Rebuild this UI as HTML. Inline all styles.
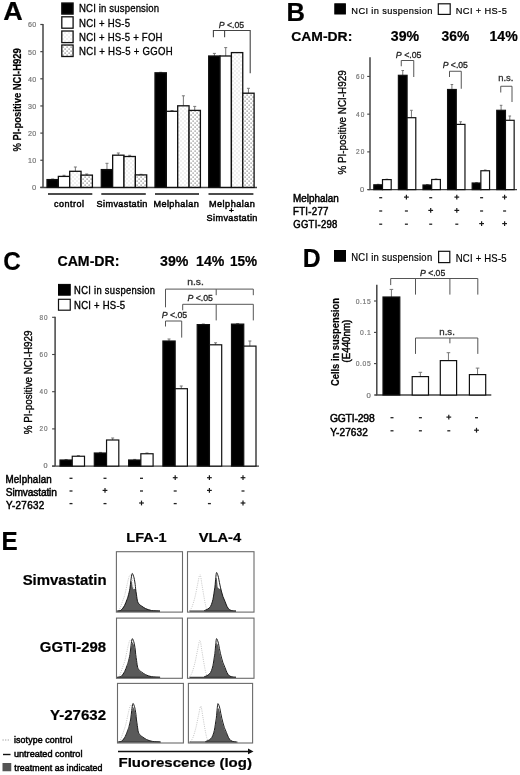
<!DOCTYPE html>
<html><head><meta charset="utf-8"><style>
html,body{margin:0;padding:0;background:#fff;}
body{width:520px;height:775px;overflow:hidden;}
svg{display:block;font-family:"Liberation Sans",sans-serif;filter:blur(0.35px);}
</style></head><body>
<svg width="520" height="775" viewBox="0 0 520 775">
<defs>
<pattern id="foh" width="4" height="4" patternUnits="userSpaceOnUse">
<rect width="4" height="4" fill="#fff"/><rect x="0.5" y="0.5" width="1" height="1" fill="#c8c8c8"/><rect x="2.5" y="2.5" width="1" height="1" fill="#c8c8c8"/>
</pattern>
<pattern id="ggoh" width="4" height="4" patternUnits="userSpaceOnUse">
<rect width="4" height="4" fill="#fff"/><rect x="0.5" y="0.5" width="1.2" height="1.2" fill="#777"/><rect x="2.5" y="2.5" width="1.2" height="1.2" fill="#777"/>
</pattern>
</defs>
<rect width="520" height="775" fill="#fff"/>
<text transform="translate(3.32,19.70) scale(1.0472,1)" font-size="25.80" style="font-weight:bold;" fill="#000" stroke="#000" stroke-width="0.2" >A</text>
<rect x="61.80" y="3.00" width="11.30" height="11.10" fill="#000" stroke="#111" stroke-width="1.3"/>
<rect x="61.80" y="16.80" width="11.30" height="11.40" fill="#fff" stroke="#111" stroke-width="1.3"/>
<rect x="61.80" y="31.00" width="11.30" height="11.60" fill="url(#foh)" stroke="#111" stroke-width="1.3"/>
<rect x="61.80" y="45.00" width="11.30" height="11.50" fill="url(#ggoh)" stroke="#111" stroke-width="1.3"/>
<text transform="translate(79.03,12.00) scale(0.9400,1)" font-size="10.20" style="letter-spacing:0.165px" fill="#000" stroke="#000" stroke-width="0.3" >NCI in suspension</text>
<text transform="translate(79.03,26.80) scale(0.9400,1)" font-size="10.20" style="letter-spacing:0.221px" fill="#000" stroke="#000" stroke-width="0.3" >NCI + HS-5</text>
<text transform="translate(79.03,41.00) scale(0.9400,1)" font-size="10.20" style="letter-spacing:0.226px" fill="#000" stroke="#000" stroke-width="0.3" >NCI + HS-5 + FOH</text>
<text transform="translate(79.03,55.20) scale(0.9400,1)" font-size="10.20" style="letter-spacing:0.288px" fill="#000" stroke="#000" stroke-width="0.3" >NCI + HS-5 + GGOH</text>
<line x1="43.0" y1="24.0" x2="43.0" y2="187.4" stroke="#444" stroke-width="1.5" />
<line x1="40.3" y1="187.4" x2="43" y2="187.4" stroke="#444" stroke-width="1.2" />
<text transform="translate(32.09,190.26) scale(1.0000,1)" font-size="7.60" style="" fill="#767676" stroke="#767676" stroke-width="0.2" >0</text>
<line x1="40.3" y1="160.25" x2="43" y2="160.25" stroke="#444" stroke-width="1.2" />
<text transform="translate(27.90,163.11) scale(0.9400,1)" font-size="7.60" style="letter-spacing:0.483px" fill="#767676" stroke="#767676" stroke-width="0.2" >10</text>
<line x1="40.3" y1="133.10000000000002" x2="43" y2="133.10000000000002" stroke="#444" stroke-width="1.2" />
<text transform="translate(27.89,135.96) scale(0.9400,1)" font-size="7.60" style="letter-spacing:0.495px" fill="#767676" stroke="#767676" stroke-width="0.2" >20</text>
<line x1="40.3" y1="105.95000000000002" x2="43" y2="105.95000000000002" stroke="#444" stroke-width="1.2" />
<text transform="translate(27.89,108.81) scale(0.9400,1)" font-size="7.60" style="letter-spacing:0.500px" fill="#767676" stroke="#767676" stroke-width="0.2" >30</text>
<line x1="40.3" y1="78.80000000000001" x2="43" y2="78.80000000000001" stroke="#444" stroke-width="1.2" />
<text transform="translate(27.88,81.66) scale(0.9400,1)" font-size="7.60" style="letter-spacing:0.507px" fill="#767676" stroke="#767676" stroke-width="0.2" >40</text>
<line x1="40.3" y1="51.650000000000006" x2="43" y2="51.650000000000006" stroke="#444" stroke-width="1.2" />
<text transform="translate(27.89,54.51) scale(0.9400,1)" font-size="7.60" style="letter-spacing:0.500px" fill="#767676" stroke="#767676" stroke-width="0.2" >50</text>
<line x1="40.3" y1="24.50000000000003" x2="43" y2="24.50000000000003" stroke="#444" stroke-width="1.2" />
<text transform="translate(27.89,27.36) scale(0.9400,1)" font-size="7.60" style="letter-spacing:0.495px" fill="#767676" stroke="#767676" stroke-width="0.2" >60</text>
<line x1="40.3" y1="187.4" x2="257" y2="187.4" stroke="#444" stroke-width="1.5" />
<line x1="52.675" y1="179.0" x2="52.675" y2="179.6" stroke="#777" stroke-width="1" />
<line x1="51.175" y1="179.0" x2="54.175" y2="179.0" stroke="#777" stroke-width="1" />
<rect x="47.00" y="179.60" width="11.35" height="7.80" fill="#000" stroke="#111" stroke-width="1.3"/>
<line x1="64.025" y1="175.3" x2="64.025" y2="176.4" stroke="#777" stroke-width="1" />
<line x1="62.525000000000006" y1="175.3" x2="65.525" y2="175.3" stroke="#777" stroke-width="1" />
<rect x="58.35" y="176.40" width="11.35" height="11.00" fill="#fff" stroke="#111" stroke-width="1.3"/>
<line x1="75.375" y1="167.0" x2="75.375" y2="171.3" stroke="#777" stroke-width="1" />
<line x1="73.875" y1="167.0" x2="76.875" y2="167.0" stroke="#777" stroke-width="1" />
<rect x="69.70" y="171.30" width="11.35" height="16.10" fill="url(#foh)" stroke="#111" stroke-width="1.3"/>
<line x1="86.725" y1="174.0" x2="86.725" y2="175.1" stroke="#777" stroke-width="1" />
<line x1="85.225" y1="174.0" x2="88.225" y2="174.0" stroke="#777" stroke-width="1" />
<rect x="81.05" y="175.10" width="11.35" height="12.30" fill="url(#ggoh)" stroke="#111" stroke-width="1.3"/>
<line x1="106.975" y1="163.3" x2="106.975" y2="169.6" stroke="#777" stroke-width="1" />
<line x1="105.475" y1="163.3" x2="108.475" y2="163.3" stroke="#777" stroke-width="1" />
<rect x="101.30" y="169.60" width="11.35" height="17.80" fill="#000" stroke="#111" stroke-width="1.3"/>
<line x1="118.32499999999999" y1="153.0" x2="118.32499999999999" y2="155.2" stroke="#777" stroke-width="1" />
<line x1="116.82499999999999" y1="153.0" x2="119.82499999999999" y2="153.0" stroke="#777" stroke-width="1" />
<rect x="112.65" y="155.20" width="11.35" height="32.20" fill="#fff" stroke="#111" stroke-width="1.3"/>
<line x1="129.675" y1="155.3" x2="129.675" y2="156.5" stroke="#777" stroke-width="1" />
<line x1="128.175" y1="155.3" x2="131.175" y2="155.3" stroke="#777" stroke-width="1" />
<rect x="124.00" y="156.50" width="11.35" height="30.90" fill="url(#foh)" stroke="#111" stroke-width="1.3"/>
<line x1="141.025" y1="174.3" x2="141.025" y2="174.9" stroke="#777" stroke-width="1" />
<line x1="139.525" y1="174.3" x2="142.525" y2="174.3" stroke="#777" stroke-width="1" />
<rect x="135.35" y="174.90" width="11.35" height="12.50" fill="url(#ggoh)" stroke="#111" stroke-width="1.3"/>
<line x1="160.675" y1="72.3" x2="160.675" y2="72.8" stroke="#777" stroke-width="1" />
<line x1="159.175" y1="72.3" x2="162.175" y2="72.3" stroke="#777" stroke-width="1" />
<rect x="155.00" y="72.80" width="11.35" height="114.60" fill="#000" stroke="#111" stroke-width="1.3"/>
<line x1="172.025" y1="110.5" x2="172.025" y2="111.3" stroke="#777" stroke-width="1" />
<line x1="170.525" y1="110.5" x2="173.525" y2="110.5" stroke="#777" stroke-width="1" />
<rect x="166.35" y="111.30" width="11.35" height="76.10" fill="#fff" stroke="#111" stroke-width="1.3"/>
<line x1="183.375" y1="95.8" x2="183.375" y2="105.8" stroke="#777" stroke-width="1" />
<line x1="181.875" y1="95.8" x2="184.875" y2="95.8" stroke="#777" stroke-width="1" />
<rect x="177.70" y="105.80" width="11.35" height="81.60" fill="url(#foh)" stroke="#111" stroke-width="1.3"/>
<line x1="194.72500000000002" y1="106.4" x2="194.72500000000002" y2="110.4" stroke="#777" stroke-width="1" />
<line x1="193.22500000000002" y1="106.4" x2="196.22500000000002" y2="106.4" stroke="#777" stroke-width="1" />
<rect x="189.05" y="110.40" width="11.35" height="77.00" fill="url(#ggoh)" stroke="#111" stroke-width="1.3"/>
<line x1="214.375" y1="53.4" x2="214.375" y2="56.0" stroke="#777" stroke-width="1" />
<line x1="212.875" y1="53.4" x2="215.875" y2="53.4" stroke="#777" stroke-width="1" />
<rect x="208.70" y="56.00" width="11.35" height="131.40" fill="#000" stroke="#111" stroke-width="1.3"/>
<line x1="225.725" y1="47.6" x2="225.725" y2="56.0" stroke="#777" stroke-width="1" />
<line x1="224.225" y1="47.6" x2="227.225" y2="47.6" stroke="#777" stroke-width="1" />
<rect x="220.05" y="56.00" width="11.35" height="131.40" fill="#fff" stroke="#111" stroke-width="1.3"/>
<rect x="231.40" y="52.60" width="11.35" height="134.80" fill="url(#foh)" stroke="#111" stroke-width="1.3"/>
<line x1="248.425" y1="88.3" x2="248.425" y2="93.2" stroke="#777" stroke-width="1" />
<line x1="246.925" y1="88.3" x2="249.925" y2="88.3" stroke="#777" stroke-width="1" />
<rect x="242.75" y="93.20" width="11.35" height="94.20" fill="url(#ggoh)" stroke="#111" stroke-width="1.3"/>
<line x1="48" y1="194" x2="92.3" y2="194" stroke="#111" stroke-width="1.4" />
<line x1="101.3" y1="194" x2="145.8" y2="194" stroke="#111" stroke-width="1.4" />
<line x1="155" y1="194" x2="199" y2="194" stroke="#111" stroke-width="1.4" />
<line x1="208.5" y1="194" x2="253.4" y2="194" stroke="#111" stroke-width="1.4" />
<text transform="translate(53.99,207.00) scale(0.9400,1)" font-size="9.60" style="letter-spacing:0.518px" fill="#000" stroke="#000" stroke-width="0.5" >control</text>
<text transform="translate(96.59,207.00) scale(0.9400,1)" font-size="9.70" style="letter-spacing:0.395px" fill="#000" stroke="#000" stroke-width="0.5" >Simvastatin</text>
<text transform="translate(153.47,207.00) scale(0.9400,1)" font-size="9.70" style="letter-spacing:0.431px" fill="#000" stroke="#000" stroke-width="0.5" >Melphalan</text>
<text transform="translate(208.97,207.00) scale(0.9400,1)" font-size="9.70" style="letter-spacing:0.511px" fill="#000" stroke="#000" stroke-width="0.5" >Melphalan</text>
<text transform="translate(228.99,213.00) scale(1.1782,1)" font-size="7.00" style="" fill="#000" stroke="#000" stroke-width="0.5" >+</text>
<text transform="translate(206.59,221.00) scale(0.9400,1)" font-size="9.70" style="letter-spacing:0.395px" fill="#000" stroke="#000" stroke-width="0.5" >Simvastatin</text>
<text transform="translate(20.90,151.54) rotate(-90) scale(0.8927,1)" font-size="10.58" style="font-weight:bold;" fill="#000" stroke="#000" stroke-width="0.2">% PI-positive NCI-H929</text>
<polyline points="213.4,37.2 213.4,30.5 250.2,30.5 250.2,73.2" fill="none" stroke="#444" stroke-width="1.1"/>
<line x1="224.6" y1="30.5" x2="224.6" y2="37.2" stroke="#444" stroke-width="1.1" />
<text transform="translate(218.74,28.30) scale(0.9344,1)" font-size="9.28" fill="#222" stroke="#222" stroke-width="0.3"><tspan style="font-style:italic">P</tspan> &lt;.05</text>
<text transform="translate(286.54,20.80) scale(0.9858,1)" font-size="25.94" style="font-weight:bold;" fill="#000" stroke="#000" stroke-width="0.2" >B</text>
<rect x="334.80" y="3.80" width="10.60" height="10.20" fill="#000" stroke="#000" stroke-width="1.0"/>
<text transform="translate(351.36,13.80) scale(0.9400,1)" font-size="9.86" style="letter-spacing:0.397px" fill="#000" stroke="#000" stroke-width="0.2" >NCI in suspension</text>
<rect x="438.30" y="3.80" width="11.90" height="10.60" fill="#fff" stroke="#111" stroke-width="1.2"/>
<text transform="translate(455.76,13.80) scale(0.9400,1)" font-size="9.86" style="letter-spacing:0.413px" fill="#000" stroke="#000" stroke-width="0.2" >NCI + HS-5</text>
<text transform="translate(291.24,41.20) scale(1.0799,1)" font-size="12.90" style="font-weight:bold;" fill="#000" stroke="#000" stroke-width="0.2" >CAM-DR:</text>
<text transform="translate(390.85,40.60) scale(1.0173,1)" font-size="13.91" style="font-weight:bold;" fill="#000" stroke="#000" stroke-width="0.2" >39%</text>
<text transform="translate(441.55,40.60) scale(0.9952,1)" font-size="13.91" style="font-weight:bold;" fill="#000" stroke="#000" stroke-width="0.2" >36%</text>
<text transform="translate(489.48,40.60) scale(1.0123,1)" font-size="13.91" style="font-weight:bold;" fill="#000" stroke="#000" stroke-width="0.2" >14%</text>
<line x1="370.0" y1="57.3" x2="370.0" y2="189.6" stroke="#444" stroke-width="1.5" />
<line x1="367.2" y1="189.6" x2="370.0" y2="189.6" stroke="#444" stroke-width="1.1" />
<text transform="translate(360.09,192.01) scale(1.1000,1)" font-size="6.90" style="" fill="#767676" stroke="#767676" stroke-width="0.2" >0</text>
<line x1="367.2" y1="151.88" x2="370.0" y2="151.88" stroke="#444" stroke-width="1.1" />
<text transform="translate(355.93,154.29) scale(0.9400,1)" font-size="6.90" style="letter-spacing:1.198px" fill="#767676" stroke="#767676" stroke-width="0.2" >20</text>
<line x1="367.2" y1="114.16" x2="370.0" y2="114.16" stroke="#444" stroke-width="1.1" />
<text transform="translate(355.91,116.58) scale(0.9400,1)" font-size="6.90" style="letter-spacing:1.227px" fill="#767676" stroke="#767676" stroke-width="0.2" >40</text>
<line x1="367.2" y1="76.44" x2="370.0" y2="76.44" stroke="#444" stroke-width="1.1" />
<text transform="translate(355.93,78.86) scale(0.9400,1)" font-size="6.90" style="letter-spacing:1.198px" fill="#767676" stroke="#767676" stroke-width="0.2" >60</text>
<line x1="367.7" y1="189.6" x2="517" y2="189.6" stroke="#444" stroke-width="1.4" />
<line x1="378.15000000000003" y1="184.3" x2="378.15000000000003" y2="184.8" stroke="#777" stroke-width="1" />
<line x1="376.85" y1="184.3" x2="379.45000000000005" y2="184.3" stroke="#777" stroke-width="1" />
<rect x="373.80" y="184.80" width="8.70" height="4.80" fill="#000" stroke="#111" stroke-width="1.2"/>
<line x1="386.85" y1="179.2" x2="386.85" y2="179.6" stroke="#777" stroke-width="1" />
<line x1="385.55" y1="179.2" x2="388.15000000000003" y2="179.2" stroke="#777" stroke-width="1" />
<rect x="382.50" y="179.60" width="8.70" height="10.00" fill="#fff" stroke="#111" stroke-width="1.2"/>
<line x1="402.74" y1="70.5" x2="402.74" y2="75.3" stroke="#777" stroke-width="1" />
<line x1="401.44" y1="70.5" x2="404.04" y2="70.5" stroke="#777" stroke-width="1" />
<rect x="398.39" y="75.30" width="8.70" height="114.30" fill="#000" stroke="#111" stroke-width="1.2"/>
<line x1="411.44" y1="110.3" x2="411.44" y2="117.7" stroke="#777" stroke-width="1" />
<line x1="410.14" y1="110.3" x2="412.74" y2="110.3" stroke="#777" stroke-width="1" />
<rect x="407.09" y="117.70" width="8.70" height="71.90" fill="#fff" stroke="#111" stroke-width="1.2"/>
<line x1="427.33000000000004" y1="184.5" x2="427.33000000000004" y2="185.0" stroke="#777" stroke-width="1" />
<line x1="426.03000000000003" y1="184.5" x2="428.63000000000005" y2="184.5" stroke="#777" stroke-width="1" />
<rect x="422.98" y="185.00" width="8.70" height="4.60" fill="#000" stroke="#111" stroke-width="1.2"/>
<line x1="436.03000000000003" y1="179.0" x2="436.03000000000003" y2="179.5" stroke="#777" stroke-width="1" />
<line x1="434.73" y1="179.0" x2="437.33000000000004" y2="179.0" stroke="#777" stroke-width="1" />
<rect x="431.68" y="179.50" width="8.70" height="10.10" fill="#fff" stroke="#111" stroke-width="1.2"/>
<line x1="451.92" y1="84.5" x2="451.92" y2="89.5" stroke="#777" stroke-width="1" />
<line x1="450.62" y1="84.5" x2="453.22" y2="84.5" stroke="#777" stroke-width="1" />
<rect x="447.57" y="89.50" width="8.70" height="100.10" fill="#000" stroke="#111" stroke-width="1.2"/>
<line x1="460.62" y1="121.75" x2="460.62" y2="124.4" stroke="#777" stroke-width="1" />
<line x1="459.32" y1="121.75" x2="461.92" y2="121.75" stroke="#777" stroke-width="1" />
<rect x="456.27" y="124.40" width="8.70" height="65.20" fill="#fff" stroke="#111" stroke-width="1.2"/>
<line x1="476.51000000000005" y1="182.6" x2="476.51000000000005" y2="183.0" stroke="#777" stroke-width="1" />
<line x1="475.21000000000004" y1="182.6" x2="477.81000000000006" y2="182.6" stroke="#777" stroke-width="1" />
<rect x="472.16" y="183.00" width="8.70" height="6.60" fill="#000" stroke="#111" stroke-width="1.2"/>
<line x1="485.21000000000004" y1="170.0" x2="485.21000000000004" y2="170.75" stroke="#777" stroke-width="1" />
<line x1="483.91" y1="170.0" x2="486.51000000000005" y2="170.0" stroke="#777" stroke-width="1" />
<rect x="480.86" y="170.75" width="8.70" height="18.85" fill="#fff" stroke="#111" stroke-width="1.2"/>
<line x1="501.1" y1="105.3" x2="501.1" y2="110.3" stroke="#777" stroke-width="1" />
<line x1="499.8" y1="105.3" x2="502.40000000000003" y2="105.3" stroke="#777" stroke-width="1" />
<rect x="496.75" y="110.30" width="8.70" height="79.30" fill="#000" stroke="#111" stroke-width="1.2"/>
<line x1="509.8" y1="116.0" x2="509.8" y2="120.3" stroke="#777" stroke-width="1" />
<line x1="508.5" y1="116.0" x2="511.1" y2="116.0" stroke="#777" stroke-width="1" />
<rect x="505.45" y="120.30" width="8.70" height="69.30" fill="#fff" stroke="#111" stroke-width="1.2"/>
<text transform="translate(346.20,174.55) rotate(-90) scale(0.9754,1)" font-size="10.14" style="" fill="#000" stroke="#000" stroke-width="0.3">% PI-positive NCI-H929</text>
<polyline points="401.25,66.25 401.25,60.5 413.75,60.5 413.75,77.0" fill="none" stroke="#555" stroke-width="1.0"/>
<text transform="translate(395.84,57.70) scale(0.9646,1)" font-size="9.13" fill="#222" stroke="#222" stroke-width="0.3"><tspan style="font-style:italic">P</tspan> &lt;.05</text>
<polyline points="449.5,77.0 449.5,71.25 461.25,71.25 461.25,88.75" fill="none" stroke="#555" stroke-width="1.0"/>
<text transform="translate(442.74,68.00) scale(1.0227,1)" font-size="8.41" fill="#222" stroke="#222" stroke-width="0.3"><tspan style="font-style:italic">P</tspan> &lt;.05</text>
<polyline points="500.75,92.5 500.75,86.25 512.0,86.25 512.0,102.0" fill="none" stroke="#555" stroke-width="1.0"/>
<text transform="translate(498.14,81.25) scale(1.1250,1)" font-size="8.40" style="" fill="#333" stroke="#333" stroke-width="0.3" >n.s.</text>
<text transform="translate(293.00,201.90) scale(0.9400,1)" font-size="10.58" style="letter-spacing:-0.007px" fill="#000" stroke="#000" stroke-width="0.5" >Melphalan</text>
<text transform="translate(293.03,215.00) scale(0.9400,1)" font-size="10.29" style="letter-spacing:0.284px" fill="#000" stroke="#000" stroke-width="0.5" >FTI-277</text>
<text transform="translate(293.32,228.00) scale(0.9400,1)" font-size="10.14" style="letter-spacing:0.254px" fill="#000" stroke="#000" stroke-width="0.5" >GGTI-298</text>
<line x1="379.2" y1="197.7" x2="382.2" y2="197.7" stroke="#222" stroke-width="1.3" />
<line x1="404.0" y1="197.1" x2="408.79999999999995" y2="197.1" stroke="#1a1a1a" stroke-width="1.2" />
<line x1="406.4" y1="194.7" x2="406.4" y2="199.5" stroke="#1a1a1a" stroke-width="1.2" />
<line x1="429.2" y1="197.7" x2="432.2" y2="197.7" stroke="#222" stroke-width="1.3" />
<line x1="454.40000000000003" y1="197.1" x2="459.2" y2="197.1" stroke="#1a1a1a" stroke-width="1.2" />
<line x1="456.8" y1="194.7" x2="456.8" y2="199.5" stroke="#1a1a1a" stroke-width="1.2" />
<line x1="480.1" y1="197.7" x2="483.1" y2="197.7" stroke="#222" stroke-width="1.3" />
<line x1="502.20000000000005" y1="197.1" x2="507.0" y2="197.1" stroke="#1a1a1a" stroke-width="1.2" />
<line x1="504.6" y1="194.7" x2="504.6" y2="199.5" stroke="#1a1a1a" stroke-width="1.2" />
<line x1="379.2" y1="211.0" x2="382.2" y2="211.0" stroke="#222" stroke-width="1.3" />
<line x1="404.9" y1="211.0" x2="407.9" y2="211.0" stroke="#222" stroke-width="1.3" />
<line x1="428.3" y1="210.4" x2="433.09999999999997" y2="210.4" stroke="#1a1a1a" stroke-width="1.2" />
<line x1="430.7" y1="208.0" x2="430.7" y2="212.8" stroke="#1a1a1a" stroke-width="1.2" />
<line x1="454.40000000000003" y1="210.4" x2="459.2" y2="210.4" stroke="#1a1a1a" stroke-width="1.2" />
<line x1="456.8" y1="208.0" x2="456.8" y2="212.8" stroke="#1a1a1a" stroke-width="1.2" />
<line x1="480.1" y1="211.0" x2="483.1" y2="211.0" stroke="#222" stroke-width="1.3" />
<line x1="503.1" y1="211.0" x2="506.1" y2="211.0" stroke="#222" stroke-width="1.3" />
<line x1="379.2" y1="224.2" x2="382.2" y2="224.2" stroke="#222" stroke-width="1.3" />
<line x1="404.9" y1="224.2" x2="407.9" y2="224.2" stroke="#222" stroke-width="1.3" />
<line x1="429.2" y1="224.2" x2="432.2" y2="224.2" stroke="#222" stroke-width="1.3" />
<line x1="455.3" y1="224.2" x2="458.3" y2="224.2" stroke="#222" stroke-width="1.3" />
<line x1="479.20000000000005" y1="223.6" x2="484.0" y2="223.6" stroke="#1a1a1a" stroke-width="1.2" />
<line x1="481.6" y1="221.2" x2="481.6" y2="226.0" stroke="#1a1a1a" stroke-width="1.2" />
<line x1="502.20000000000005" y1="223.6" x2="507.0" y2="223.6" stroke="#1a1a1a" stroke-width="1.2" />
<line x1="504.6" y1="221.2" x2="504.6" y2="226.0" stroke="#1a1a1a" stroke-width="1.2" />
<text transform="translate(3.33,270.00) scale(0.9373,1)" font-size="25.90" style="font-weight:bold;" fill="#000" stroke="#000" stroke-width="0.2" >C</text>
<text transform="translate(57.43,265.60) scale(1.0288,1)" font-size="13.77" style="font-weight:bold;" fill="#000" stroke="#000" stroke-width="0.2" >CAM-DR:</text>
<text transform="translate(160.04,266.20) scale(1.0002,1)" font-size="14.20" style="font-weight:bold;" fill="#000" stroke="#000" stroke-width="0.2" >39%</text>
<text transform="translate(196.08,266.20) scale(0.9953,1)" font-size="14.20" style="font-weight:bold;" fill="#000" stroke="#000" stroke-width="0.2" >14%</text>
<text transform="translate(229.92,266.20) scale(0.9584,1)" font-size="14.20" style="font-weight:bold;" fill="#000" stroke="#000" stroke-width="0.2" >15%</text>
<rect x="58.50" y="284.40" width="11.75" height="10.80" fill="#000" stroke="#000" stroke-width="1.0"/>
<text transform="translate(74.05,294.20) scale(0.9400,1)" font-size="10.00" style="letter-spacing:0.325px" fill="#000" stroke="#000" stroke-width="0.35" >NCI in suspension</text>
<text transform="translate(74.04,308.80) scale(0.9400,1)" font-size="10.14" style="letter-spacing:0.252px" fill="#000" stroke="#000" stroke-width="0.35" >NCI + HS-5</text>
<rect x="58.50" y="299.30" width="11.75" height="10.90" fill="#fff" stroke="#111" stroke-width="1.2"/>
<line x1="55.1" y1="316.8" x2="55.1" y2="466.1" stroke="#444" stroke-width="1.5" />
<line x1="52.1" y1="466.1" x2="55.1" y2="466.1" stroke="#444" stroke-width="1.1" />
<text transform="translate(43.55,468.48) scale(1.0700,1)" font-size="6.80" style="" fill="#767676" stroke="#767676" stroke-width="0.2" >0</text>
<line x1="52.1" y1="428.90000000000003" x2="55.1" y2="428.90000000000003" stroke="#444" stroke-width="1.1" />
<text transform="translate(39.56,431.28) scale(0.9400,1)" font-size="6.80" style="letter-spacing:0.959px" fill="#767676" stroke="#767676" stroke-width="0.2" >20</text>
<line x1="52.1" y1="391.70000000000005" x2="55.1" y2="391.70000000000005" stroke="#444" stroke-width="1.1" />
<text transform="translate(39.54,394.08) scale(0.9400,1)" font-size="6.80" style="letter-spacing:0.983px" fill="#767676" stroke="#767676" stroke-width="0.2" >40</text>
<line x1="52.1" y1="354.5" x2="55.1" y2="354.5" stroke="#444" stroke-width="1.1" />
<text transform="translate(39.56,356.88) scale(0.9400,1)" font-size="6.80" style="letter-spacing:0.959px" fill="#767676" stroke="#767676" stroke-width="0.2" >60</text>
<line x1="52.1" y1="317.3" x2="55.1" y2="317.3" stroke="#444" stroke-width="1.1" />
<text transform="translate(39.55,319.68) scale(0.9400,1)" font-size="6.80" style="letter-spacing:0.964px" fill="#767676" stroke="#767676" stroke-width="0.2" >80</text>
<line x1="52.1" y1="466.1" x2="259" y2="466.1" stroke="#444" stroke-width="1.4" />
<line x1="66.125" y1="459.5" x2="66.125" y2="460.0" stroke="#777" stroke-width="1" />
<line x1="64.625" y1="459.5" x2="67.625" y2="459.5" stroke="#777" stroke-width="1" />
<rect x="60.00" y="460.00" width="12.25" height="6.10" fill="#000" stroke="#111" stroke-width="1.2"/>
<line x1="78.375" y1="455.6" x2="78.375" y2="456.25" stroke="#777" stroke-width="1" />
<line x1="76.875" y1="455.6" x2="79.875" y2="455.6" stroke="#777" stroke-width="1" />
<rect x="72.25" y="456.25" width="12.25" height="9.85" fill="#fff" stroke="#111" stroke-width="1.2"/>
<line x1="100.425" y1="452.4" x2="100.425" y2="453.0" stroke="#777" stroke-width="1" />
<line x1="98.925" y1="452.4" x2="101.925" y2="452.4" stroke="#777" stroke-width="1" />
<rect x="94.30" y="453.00" width="12.25" height="13.10" fill="#000" stroke="#111" stroke-width="1.2"/>
<line x1="112.675" y1="438.0" x2="112.675" y2="440.0" stroke="#777" stroke-width="1" />
<line x1="111.175" y1="438.0" x2="114.175" y2="438.0" stroke="#777" stroke-width="1" />
<rect x="106.55" y="440.00" width="12.25" height="26.10" fill="#fff" stroke="#111" stroke-width="1.2"/>
<line x1="134.725" y1="459.4" x2="134.725" y2="460.0" stroke="#777" stroke-width="1" />
<line x1="133.225" y1="459.4" x2="136.225" y2="459.4" stroke="#777" stroke-width="1" />
<rect x="128.60" y="460.00" width="12.25" height="6.10" fill="#000" stroke="#111" stroke-width="1.2"/>
<line x1="146.975" y1="453.0" x2="146.975" y2="453.75" stroke="#777" stroke-width="1" />
<line x1="145.475" y1="453.0" x2="148.475" y2="453.0" stroke="#777" stroke-width="1" />
<rect x="140.85" y="453.75" width="12.25" height="12.35" fill="#fff" stroke="#111" stroke-width="1.2"/>
<line x1="169.02499999999998" y1="339.0" x2="169.02499999999998" y2="341.0" stroke="#777" stroke-width="1" />
<line x1="167.52499999999998" y1="339.0" x2="170.52499999999998" y2="339.0" stroke="#777" stroke-width="1" />
<rect x="162.90" y="341.00" width="12.25" height="125.10" fill="#000" stroke="#111" stroke-width="1.2"/>
<line x1="181.27499999999998" y1="386.0" x2="181.27499999999998" y2="388.7" stroke="#777" stroke-width="1" />
<line x1="179.77499999999998" y1="386.0" x2="182.77499999999998" y2="386.0" stroke="#777" stroke-width="1" />
<rect x="175.15" y="388.70" width="12.25" height="77.40" fill="#fff" stroke="#111" stroke-width="1.2"/>
<line x1="203.325" y1="324.0" x2="203.325" y2="324.6" stroke="#777" stroke-width="1" />
<line x1="201.825" y1="324.0" x2="204.825" y2="324.0" stroke="#777" stroke-width="1" />
<rect x="197.20" y="324.60" width="12.25" height="141.50" fill="#000" stroke="#111" stroke-width="1.2"/>
<line x1="215.575" y1="342.8" x2="215.575" y2="344.8" stroke="#777" stroke-width="1" />
<line x1="214.075" y1="342.8" x2="217.075" y2="342.8" stroke="#777" stroke-width="1" />
<rect x="209.45" y="344.80" width="12.25" height="121.30" fill="#fff" stroke="#111" stroke-width="1.2"/>
<line x1="237.625" y1="323.6" x2="237.625" y2="324.1" stroke="#777" stroke-width="1" />
<line x1="236.125" y1="323.6" x2="239.125" y2="323.6" stroke="#777" stroke-width="1" />
<rect x="231.50" y="324.10" width="12.25" height="142.00" fill="#000" stroke="#111" stroke-width="1.2"/>
<line x1="249.875" y1="341.0" x2="249.875" y2="346.1" stroke="#777" stroke-width="1" />
<line x1="248.375" y1="341.0" x2="251.375" y2="341.0" stroke="#777" stroke-width="1" />
<rect x="243.75" y="346.10" width="12.25" height="120.00" fill="#fff" stroke="#111" stroke-width="1.2"/>
<text transform="translate(31.50,434.34) rotate(-90) scale(0.9051,1)" font-size="10.87" style="" fill="#000" stroke="#000" stroke-width="0.35">% PI-positive NCI-H929</text>
<polyline points="165.5,307.3 165.5,289.1 253.3,289.1 253.3,295.2" fill="none" stroke="#555" stroke-width="1.0"/>
<line x1="216.2" y1="289.1" x2="216.2" y2="295.2" stroke="#555" stroke-width="1.0" />
<text transform="translate(187.23,285.30) scale(1.2273,1)" font-size="8.40" style="" fill="#333" stroke="#333" stroke-width="0.3" >n.s.</text>
<polyline points="182.7,310.3 182.7,304.3 253.3,304.3 253.3,320.4" fill="none" stroke="#555" stroke-width="1.0"/>
<line x1="216.2" y1="304.3" x2="216.2" y2="320.4" stroke="#555" stroke-width="1.0" />
<text transform="translate(187.44,301.30) scale(0.9275,1)" font-size="9.42" fill="#222" stroke="#222" stroke-width="0.3"><tspan style="font-style:italic">P</tspan> &lt;.05</text>
<polyline points="165.5,326.5 165.5,321.0 181.7,321.0 181.7,337.6" fill="none" stroke="#555" stroke-width="1.0"/>
<text transform="translate(161.74,318.40) scale(0.9420,1)" font-size="9.28" fill="#222" stroke="#222" stroke-width="0.3"><tspan style="font-style:italic">P</tspan> &lt;.05</text>
<text transform="translate(5.47,482.50) scale(0.9400,1)" font-size="10.43" style="letter-spacing:0.154px" fill="#000" stroke="#000" stroke-width="0.5" >Melphalan</text>
<text transform="translate(5.79,495.50) scale(0.9400,1)" font-size="10.87" style="letter-spacing:-0.175px" fill="#000" stroke="#000" stroke-width="0.5" >Simvastatin</text>
<text transform="translate(6.00,508.75) scale(0.9400,1)" font-size="10.51" style="letter-spacing:0.318px" fill="#000" stroke="#000" stroke-width="0.5" >Y-27632</text>
<line x1="69.5" y1="478.3" x2="72.5" y2="478.3" stroke="#222" stroke-width="1.3" />
<line x1="103.5" y1="478.3" x2="106.5" y2="478.3" stroke="#222" stroke-width="1.3" />
<line x1="140.0" y1="478.3" x2="143.0" y2="478.3" stroke="#222" stroke-width="1.3" />
<line x1="172.79999999999998" y1="477.7" x2="177.6" y2="477.7" stroke="#1a1a1a" stroke-width="1.2" />
<line x1="175.2" y1="475.3" x2="175.2" y2="480.09999999999997" stroke="#1a1a1a" stroke-width="1.2" />
<line x1="207.0" y1="477.7" x2="211.8" y2="477.7" stroke="#1a1a1a" stroke-width="1.2" />
<line x1="209.4" y1="475.3" x2="209.4" y2="480.09999999999997" stroke="#1a1a1a" stroke-width="1.2" />
<line x1="240.6" y1="477.7" x2="245.4" y2="477.7" stroke="#1a1a1a" stroke-width="1.2" />
<line x1="243.0" y1="475.3" x2="243.0" y2="480.09999999999997" stroke="#1a1a1a" stroke-width="1.2" />
<line x1="69.5" y1="491.0" x2="72.5" y2="491.0" stroke="#222" stroke-width="1.3" />
<line x1="102.6" y1="490.4" x2="107.4" y2="490.4" stroke="#1a1a1a" stroke-width="1.2" />
<line x1="105.0" y1="488.0" x2="105.0" y2="492.79999999999995" stroke="#1a1a1a" stroke-width="1.2" />
<line x1="140.0" y1="491.0" x2="143.0" y2="491.0" stroke="#222" stroke-width="1.3" />
<line x1="173.7" y1="491.0" x2="176.7" y2="491.0" stroke="#222" stroke-width="1.3" />
<line x1="207.0" y1="490.4" x2="211.8" y2="490.4" stroke="#1a1a1a" stroke-width="1.2" />
<line x1="209.4" y1="488.0" x2="209.4" y2="492.79999999999995" stroke="#1a1a1a" stroke-width="1.2" />
<line x1="241.5" y1="491.0" x2="244.5" y2="491.0" stroke="#222" stroke-width="1.3" />
<line x1="69.5" y1="503.6" x2="72.5" y2="503.6" stroke="#222" stroke-width="1.3" />
<line x1="103.5" y1="503.6" x2="106.5" y2="503.6" stroke="#222" stroke-width="1.3" />
<line x1="139.1" y1="503.0" x2="143.9" y2="503.0" stroke="#1a1a1a" stroke-width="1.2" />
<line x1="141.5" y1="500.6" x2="141.5" y2="505.4" stroke="#1a1a1a" stroke-width="1.2" />
<line x1="173.7" y1="503.6" x2="176.7" y2="503.6" stroke="#222" stroke-width="1.3" />
<line x1="207.9" y1="503.6" x2="210.9" y2="503.6" stroke="#222" stroke-width="1.3" />
<line x1="240.6" y1="503.0" x2="245.4" y2="503.0" stroke="#1a1a1a" stroke-width="1.2" />
<line x1="243.0" y1="500.6" x2="243.0" y2="505.4" stroke="#1a1a1a" stroke-width="1.2" />
<text transform="translate(302.68,266.90) scale(0.9590,1)" font-size="25.94" style="font-weight:bold;" fill="#000" stroke="#000" stroke-width="0.2" >D</text>
<rect x="334.50" y="250.50" width="11.00" height="10.75" fill="#000" stroke="#000" stroke-width="1.0"/>
<text transform="translate(351.24,261.25) scale(0.9400,1)" font-size="10.07" style="letter-spacing:0.275px" fill="#000" stroke="#000" stroke-width="0.2" >NCI in suspension</text>
<rect x="438.60" y="251.30" width="11.20" height="11.30" fill="#fff" stroke="#111" stroke-width="1.2"/>
<text transform="translate(455.74,261.50) scale(0.9400,1)" font-size="10.14" style="letter-spacing:0.228px" fill="#000" stroke="#000" stroke-width="0.2" >NCI + HS-5</text>
<line x1="376.8" y1="284.8" x2="376.8" y2="395.0" stroke="#444" stroke-width="1.5" />
<line x1="374.0" y1="395.0" x2="376.8" y2="395.0" stroke="#444" stroke-width="1.1" />
<text transform="translate(366.50,397.52) scale(1.0800,1)" font-size="7.20" style="" fill="#767676" stroke="#767676" stroke-width="0.2" >0</text>
<line x1="374.0" y1="363.6" x2="376.8" y2="363.6" stroke="#444" stroke-width="1.1" />
<text transform="translate(355.73,366.12) scale(0.9400,1)" font-size="7.20" style="letter-spacing:0.667px" fill="#767676" stroke="#767676" stroke-width="0.2" >0.05</text>
<line x1="374.0" y1="332.4" x2="376.8" y2="332.4" stroke="#444" stroke-width="1.1" />
<text transform="translate(360.12,334.92) scale(0.9400,1)" font-size="7.20" style="letter-spacing:0.697px" fill="#767676" stroke="#767676" stroke-width="0.2" >0.1</text>
<line x1="374.0" y1="301.0" x2="376.8" y2="301.0" stroke="#444" stroke-width="1.1" />
<text transform="translate(355.73,303.52) scale(0.9400,1)" font-size="7.20" style="letter-spacing:0.667px" fill="#767676" stroke="#767676" stroke-width="0.2" >0.15</text>
<line x1="375.4" y1="395.0" x2="491.3" y2="395.0" stroke="#444" stroke-width="1.4" />
<line x1="391.4" y1="289.4" x2="391.4" y2="297.0" stroke="#777" stroke-width="1" />
<line x1="389.59999999999997" y1="289.4" x2="393.2" y2="289.4" stroke="#777" stroke-width="1" />
<rect x="383.00" y="297.00" width="16.80" height="98.00" fill="#000" stroke="#111" stroke-width="1.2"/>
<line x1="420.35" y1="372.3" x2="420.35" y2="376.6" stroke="#777" stroke-width="1" />
<line x1="418.55" y1="372.3" x2="422.15000000000003" y2="372.3" stroke="#777" stroke-width="1" />
<rect x="412.20" y="376.60" width="16.30" height="18.40" fill="#fff" stroke="#111" stroke-width="1.2"/>
<line x1="448.45000000000005" y1="352.7" x2="448.45000000000005" y2="360.6" stroke="#777" stroke-width="1" />
<line x1="446.65000000000003" y1="352.7" x2="450.25000000000006" y2="352.7" stroke="#777" stroke-width="1" />
<rect x="440.30" y="360.60" width="16.30" height="34.40" fill="#fff" stroke="#111" stroke-width="1.2"/>
<line x1="477.54999999999995" y1="368.1" x2="477.54999999999995" y2="374.6" stroke="#777" stroke-width="1" />
<line x1="475.74999999999994" y1="368.1" x2="479.34999999999997" y2="368.1" stroke="#777" stroke-width="1" />
<rect x="469.40" y="374.60" width="16.30" height="20.40" fill="#fff" stroke="#111" stroke-width="1.2"/>
<text transform="translate(339.30,386.08) rotate(-90) scale(0.9122,1)" font-size="10.29" style="font-weight:bold;" fill="#000" stroke="#000" stroke-width="0.2">Cells in suspension</text>
<text transform="translate(350.10,362.38) rotate(-90) scale(0.9186,1)" font-size="10.58" style="" fill="#000" stroke="#000" stroke-width="0.5">(E440nm)</text>
<polyline points="390.7,285.1 390.7,278.5 477.8,278.5 477.8,294.6" fill="none" stroke="#555" stroke-width="1.0"/>
<line x1="415.5" y1="278.5" x2="415.5" y2="294.6" stroke="#555" stroke-width="1.0" />
<line x1="449.9" y1="278.5" x2="449.9" y2="294.6" stroke="#555" stroke-width="1.0" />
<text transform="translate(419.94,275.70) scale(0.9646,1)" font-size="8.99" fill="#222" stroke="#222" stroke-width="0.3"><tspan style="font-style:italic">P</tspan> &lt;.05</text>
<polyline points="415.5,353.9 415.5,338.0 477.8,338.0 477.8,353.9" fill="none" stroke="#555" stroke-width="1.0"/>
<line x1="449.9" y1="338.0" x2="449.9" y2="343.3" stroke="#555" stroke-width="1.0" />
<text transform="translate(439.27,334.80) scale(1.1537,1)" font-size="8.40" style="" fill="#333" stroke="#333" stroke-width="0.3" >n.s.</text>
<text transform="translate(329.88,422.20) scale(0.9400,1)" font-size="11.01" style="letter-spacing:-0.181px" fill="#000" stroke="#000" stroke-width="0.5" >GGTI-298</text>
<text transform="translate(330.15,436.00) scale(0.9400,1)" font-size="10.72" style="letter-spacing:0.099px" fill="#000" stroke="#000" stroke-width="0.5" >Y-27632</text>
<line x1="390.5" y1="417.7" x2="393.5" y2="417.7" stroke="#222" stroke-width="1.3" />
<line x1="418.9" y1="417.7" x2="421.9" y2="417.7" stroke="#222" stroke-width="1.3" />
<line x1="446.40000000000003" y1="417.09999999999997" x2="451.2" y2="417.09999999999997" stroke="#1a1a1a" stroke-width="1.2" />
<line x1="448.8" y1="414.7" x2="448.8" y2="419.49999999999994" stroke="#1a1a1a" stroke-width="1.2" />
<line x1="475.0" y1="417.7" x2="478.0" y2="417.7" stroke="#222" stroke-width="1.3" />
<line x1="390.5" y1="430.8" x2="393.5" y2="430.8" stroke="#222" stroke-width="1.3" />
<line x1="418.9" y1="430.8" x2="421.9" y2="430.8" stroke="#222" stroke-width="1.3" />
<line x1="447.3" y1="430.8" x2="450.3" y2="430.8" stroke="#222" stroke-width="1.3" />
<line x1="474.1" y1="430.2" x2="478.9" y2="430.2" stroke="#1a1a1a" stroke-width="1.2" />
<line x1="476.5" y1="427.8" x2="476.5" y2="432.59999999999997" stroke="#1a1a1a" stroke-width="1.2" />
<text transform="translate(1.42,550.10) scale(0.9244,1)" font-size="26.23" style="font-weight:bold;" fill="#000" stroke="#000" stroke-width="0.2" >E</text>
<text transform="translate(126.36,542.30) scale(1.1624,1)" font-size="12.46" style="font-weight:bold;" fill="#000" stroke="#000" stroke-width="0.2" >LFA-1</text>
<text transform="translate(198.65,542.30) scale(1.1833,1)" font-size="12.46" style="font-weight:bold;" fill="#000" stroke="#000" stroke-width="0.2" >VLA-4</text>
<text transform="translate(22.65,584.70) scale(1.0635,1)" font-size="14.06" style="font-weight:bold;" fill="#000" stroke="#000" stroke-width="0.2" >Simvastatin</text>
<text transform="translate(39.80,652.30) scale(1.0403,1)" font-size="14.35" style="font-weight:bold;" fill="#000" stroke="#000" stroke-width="0.2" >GGTI-298</text>
<text transform="translate(50.00,719.50) scale(1.0392,1)" font-size="14.49" style="font-weight:bold;" fill="#000" stroke="#000" stroke-width="0.2" >Y-27632</text>
<path d="M119.00,611.10 C119.33,610.18 120.33,607.45 121.00,605.60 C121.67,603.75 122.35,601.87 123.00,600.00 C123.65,598.13 124.17,597.18 124.90,594.40 C125.63,591.62 126.68,586.32 127.40,583.30 C128.12,580.28 128.68,577.68 129.20,576.30 C129.72,574.92 130.03,574.72 130.50,575.00 C130.97,575.28 131.50,575.83 132.00,578.00 C132.50,580.17 133.00,584.67 133.50,588.00 C134.00,591.33 134.42,595.00 135.00,598.00 C135.58,601.00 136.17,603.92 137.00,606.00 C137.83,608.08 139.50,609.75 140.00,610.50" fill="none" stroke="#c4c4c4" stroke-width="0.9" stroke-dasharray="1.1,1.1"/>
<path d="M117.70,611.10 L121.00,610.20 L124.50,605.60 L127.00,599.50 L128.20,596.00 L129.90,588.70 L130.40,584.00 L130.80,581.50 L131.40,581.00 L132.00,583.00 L132.60,587.00 L133.50,589.20 L135.40,588.50 L135.60,588.70 L136.50,594.90 L137.60,601.50 L139.50,604.50 L141.40,605.90 L145.60,608.60 L151.50,610.50 L160.00,611.10 L160.00,611.70 L117.70,611.70 Z" fill="#5a5a5a"/>
<path d="M117.70,611.10 C118.25,610.95 119.87,611.12 121.00,610.20 C122.13,609.28 123.50,607.38 124.50,605.60 C125.50,603.82 126.38,601.10 127.00,599.50 C127.62,597.90 127.72,597.80 128.20,596.00 C128.68,594.20 129.45,591.30 129.90,588.70 C130.35,586.10 130.53,582.92 130.90,580.40 C131.27,577.88 131.65,574.28 132.10,573.60 C132.55,572.92 133.22,575.30 133.60,576.30 C133.98,577.30 134.13,578.23 134.40,579.60 C134.67,580.97 135.00,582.98 135.20,584.50 C135.40,586.02 135.38,586.97 135.60,588.70 C135.82,590.43 136.17,592.77 136.50,594.90 C136.83,597.03 137.10,599.90 137.60,601.50 C138.10,603.10 138.87,603.77 139.50,604.50 C140.13,605.23 140.38,605.22 141.40,605.90 C142.42,606.58 143.92,607.83 145.60,608.60 C147.28,609.37 149.10,610.08 151.50,610.50 C153.90,610.92 158.58,611.00 160.00,611.10" fill="none" stroke="#111" stroke-width="0.95"/>
<line x1="116.4" y1="611.1" x2="160" y2="611.1" stroke="#333" stroke-width="1.2" />
<path d="M189.50,610.70 C189.92,610.07 191.08,609.21 192.00,606.91 C192.92,604.62 194.08,600.60 195.00,596.94 C195.92,593.28 196.67,588.71 197.50,584.97 C198.33,581.23 199.25,574.50 200.00,574.50 C200.75,574.50 201.33,581.23 202.00,584.97 C202.67,588.71 203.33,593.28 204.00,596.94 C204.67,600.60 205.33,604.58 206.00,606.91 C206.67,609.24 207.67,610.24 208.00,610.90" fill="none" stroke="#c4c4c4" stroke-width="0.9" stroke-dasharray="1.1,1.1"/>
<path d="M204.50,611.10 L208.00,609.11 L210.50,606.71 L212.30,602.22 L213.40,597.24 L214.30,591.25 L214.90,587.46 L215.40,582.27 L215.90,578.48 L216.30,577.49 L216.90,578.98 L217.30,582.97 L217.60,587.16 L219.50,588.96 L220.60,588.46 L221.60,591.95 L223.00,596.74 L225.00,601.43 L227.00,606.41 L229.50,609.70 L233.00,610.90 L236.00,611.10 L236.00,611.70 L204.50,611.70 Z" fill="#5a5a5a"/>
<path d="M204.00,610.70 C204.67,610.40 206.92,609.62 208.00,608.91 C209.08,608.19 209.78,607.58 210.50,606.41 C211.22,605.25 211.82,603.50 212.30,601.92 C212.78,600.34 213.07,598.77 213.40,596.94 C213.73,595.11 214.05,592.58 214.30,590.95 C214.55,589.32 214.72,588.66 214.90,587.16 C215.08,585.67 215.25,583.57 215.40,581.98 C215.55,580.38 215.62,579.15 215.80,577.59 C215.98,576.02 216.20,573.12 216.50,572.60 C216.80,572.08 217.27,573.66 217.60,574.49 C217.93,575.33 218.20,576.27 218.50,577.59 C218.80,578.90 219.08,580.78 219.40,582.37 C219.72,583.97 220.03,585.57 220.40,587.16 C220.77,588.76 221.17,590.35 221.60,591.95 C222.03,593.55 222.43,595.16 223.00,596.74 C223.57,598.32 224.33,599.81 225.00,601.43 C225.67,603.04 226.25,605.03 227.00,606.41 C227.75,607.79 228.50,608.96 229.50,609.70 C230.50,610.45 231.92,610.67 233.00,610.90 C234.08,611.13 235.50,611.07 236.00,611.10" fill="none" stroke="#111" stroke-width="0.95"/>
<line x1="189.5" y1="611.1" x2="236" y2="611.1" stroke="#333" stroke-width="1.2" />
<rect x="116.40" y="551.70" width="66.10" height="60.40" fill="none" stroke="#6a6a6a" stroke-width="1.1"/>
<rect x="187.50" y="551.70" width="66.50" height="60.40" fill="none" stroke="#6a6a6a" stroke-width="1.1"/>
<path d="M119.10,677.30 C119.43,676.36 120.43,673.55 121.10,671.65 C121.77,669.75 122.45,667.82 123.10,665.90 C123.75,663.99 124.27,663.01 125.00,660.15 C125.73,657.30 126.78,651.86 127.50,648.76 C128.22,645.66 128.78,642.99 129.30,641.57 C129.82,640.15 130.13,639.95 130.60,640.24 C131.07,640.53 131.60,641.09 132.10,643.32 C132.60,645.54 133.10,650.16 133.60,653.58 C134.10,657.01 134.52,660.77 135.10,663.85 C135.68,666.93 136.27,669.93 137.10,672.06 C137.93,674.20 139.60,675.91 140.10,676.68" fill="none" stroke="#c4c4c4" stroke-width="0.9" stroke-dasharray="1.1,1.1"/>
<path d="M117.80,677.30 L121.10,676.45 L124.60,672.11 L127.10,666.34 L128.30,663.04 L130.00,656.14 L131.00,648.30 L132.20,641.88 L133.70,644.43 L134.50,647.55 L135.30,652.18 L135.70,656.14 L136.60,662.00 L137.70,668.23 L139.60,671.07 L141.50,672.39 L145.70,674.94 L151.60,676.73 L160.10,677.30 L160.10,677.90 L117.80,677.90 Z" fill="#5a5a5a"/>
<path d="M117.80,677.30 C118.35,677.15 119.97,677.32 121.10,676.38 C122.23,675.43 123.60,673.48 124.60,671.65 C125.60,669.82 126.48,667.03 127.10,665.39 C127.72,663.75 127.82,663.65 128.30,661.80 C128.78,659.95 129.55,656.97 130.00,654.30 C130.45,651.63 130.63,648.37 131.00,645.78 C131.37,643.20 131.75,639.50 132.20,638.80 C132.65,638.10 133.32,640.55 133.70,641.57 C134.08,642.60 134.23,643.56 134.50,644.96 C134.77,646.36 135.10,648.43 135.30,649.99 C135.50,651.55 135.48,652.52 135.70,654.30 C135.92,656.08 136.27,658.48 136.60,660.67 C136.93,662.86 137.20,665.80 137.70,667.44 C138.20,669.09 138.97,669.77 139.60,670.52 C140.23,671.28 140.48,671.26 141.50,671.96 C142.52,672.66 144.02,673.95 145.70,674.73 C147.38,675.52 149.20,676.26 151.60,676.68 C154.00,677.11 158.68,677.20 160.10,677.30" fill="none" stroke="#111" stroke-width="0.95"/>
<line x1="116.5" y1="677.3" x2="160" y2="677.3" stroke="#333" stroke-width="1.2" />
<path d="M189.40,676.90 C189.82,676.26 190.98,675.38 191.90,673.07 C192.82,670.75 193.98,666.68 194.90,662.98 C195.82,659.29 196.57,654.67 197.40,650.89 C198.23,647.11 199.15,640.30 199.90,640.30 C200.65,640.30 201.23,647.11 201.90,650.89 C202.57,654.67 203.23,659.29 203.90,662.98 C204.57,666.68 205.23,670.71 205.90,673.07 C206.57,675.42 207.57,676.43 207.90,677.10" fill="none" stroke="#c4c4c4" stroke-width="0.9" stroke-dasharray="1.1,1.1"/>
<path d="M204.00,676.94 L208.00,675.32 L210.50,673.07 L212.30,669.02 L213.40,664.52 L214.30,659.12 L214.90,655.70 L215.40,651.02 L215.80,647.06 L216.50,642.56 L217.60,644.27 L218.50,647.06 L219.40,651.38 L220.40,655.70 L221.60,660.02 L223.00,664.34 L225.00,668.57 L227.00,673.07 L229.50,676.04 L233.00,677.12 L236.00,677.30 L236.00,677.90 L204.00,677.90 Z" fill="#5a5a5a"/>
<path d="M204.00,676.90 C204.67,676.60 206.92,675.82 208.00,675.10 C209.08,674.38 209.78,673.77 210.50,672.60 C211.22,671.43 211.82,669.68 212.30,668.10 C212.78,666.52 213.07,664.93 213.40,663.10 C213.73,661.27 214.05,658.73 214.30,657.10 C214.55,655.47 214.72,654.80 214.90,653.30 C215.08,651.80 215.25,649.70 215.40,648.10 C215.55,646.50 215.62,645.27 215.80,643.70 C215.98,642.13 216.20,639.22 216.50,638.70 C216.80,638.18 217.27,639.77 217.60,640.60 C217.93,641.43 218.20,642.38 218.50,643.70 C218.80,645.02 219.08,646.90 219.40,648.50 C219.72,650.10 220.03,651.70 220.40,653.30 C220.77,654.90 221.17,656.50 221.60,658.10 C222.03,659.70 222.43,661.32 223.00,662.90 C223.57,664.48 224.33,665.98 225.00,667.60 C225.67,669.22 226.25,671.22 227.00,672.60 C227.75,673.98 228.50,675.15 229.50,675.90 C230.50,676.65 231.92,676.87 233.00,677.10 C234.08,677.33 235.50,677.27 236.00,677.30" fill="none" stroke="#111" stroke-width="0.95"/>
<line x1="189.5" y1="677.3" x2="236" y2="677.3" stroke="#333" stroke-width="1.2" />
<rect x="116.50" y="618.10" width="65.90" height="60.20" fill="none" stroke="#6a6a6a" stroke-width="1.1"/>
<rect x="187.50" y="618.10" width="66.50" height="60.20" fill="none" stroke="#6a6a6a" stroke-width="1.1"/>
<path d="M119.80,742.00 C120.13,741.06 121.13,738.26 121.80,736.37 C122.47,734.47 123.15,732.55 123.80,730.63 C124.45,728.72 124.97,727.75 125.70,724.90 C126.43,722.05 127.48,716.62 128.20,713.53 C128.92,710.44 129.48,707.78 130.00,706.36 C130.52,704.95 130.83,704.74 131.30,705.03 C131.77,705.32 132.30,705.89 132.80,708.11 C133.30,710.32 133.80,714.93 134.30,718.35 C134.80,721.76 135.22,725.51 135.80,728.59 C136.38,731.66 136.97,734.64 137.80,736.78 C138.63,738.91 140.30,740.62 140.80,741.39" fill="none" stroke="#c4c4c4" stroke-width="0.9" stroke-dasharray="1.1,1.1"/>
<path d="M118.50,742.00 L121.80,741.15 L125.30,736.82 L127.80,731.07 L129.00,727.77 L130.70,720.90 L131.70,713.08 L132.90,706.67 L134.40,709.22 L135.20,712.32 L136.00,716.94 L136.40,720.90 L137.30,726.74 L138.40,732.96 L140.30,735.78 L142.20,737.10 L146.40,739.64 L152.30,741.43 L160.80,742.00 L160.80,742.60 L118.50,742.60 Z" fill="#5a5a5a"/>
<path d="M118.50,742.00 C119.05,741.85 120.67,742.02 121.80,741.08 C122.93,740.14 124.30,738.19 125.30,736.37 C126.30,734.54 127.18,731.76 127.80,730.12 C128.42,728.48 128.52,728.38 129.00,726.54 C129.48,724.69 130.25,721.72 130.70,719.06 C131.15,716.40 131.33,713.14 131.70,710.56 C132.07,707.99 132.45,704.30 132.90,703.60 C133.35,702.90 134.02,705.34 134.40,706.36 C134.78,707.39 134.93,708.34 135.20,709.74 C135.47,711.14 135.80,713.21 136.00,714.76 C136.20,716.31 136.18,717.29 136.40,719.06 C136.62,720.84 136.97,723.23 137.30,725.41 C137.63,727.60 137.90,730.53 138.40,732.17 C138.90,733.81 139.67,734.49 140.30,735.24 C140.93,735.99 141.18,735.98 142.20,736.68 C143.22,737.37 144.72,738.65 146.40,739.44 C148.08,740.23 149.90,740.96 152.30,741.39 C154.70,741.81 159.38,741.90 160.80,742.00" fill="none" stroke="#111" stroke-width="0.95"/>
<line x1="117.5" y1="742.0" x2="160" y2="742.0" stroke="#333" stroke-width="1.2" />
<path d="M190.30,741.61 C190.72,740.99 191.88,740.15 192.80,737.90 C193.72,735.66 194.88,731.72 195.80,728.15 C196.72,724.57 197.47,720.10 198.30,716.44 C199.13,712.78 200.05,706.20 200.80,706.20 C201.55,706.20 202.13,712.78 202.80,716.44 C203.47,720.10 204.13,724.57 204.80,728.15 C205.47,731.72 206.13,735.63 206.80,737.90 C207.47,740.18 208.47,741.15 208.80,741.80" fill="none" stroke="#c4c4c4" stroke-width="0.9" stroke-dasharray="1.1,1.1"/>
<path d="M205.40,741.64 L209.40,740.04 L211.90,737.80 L213.70,733.78 L214.80,729.32 L215.70,723.96 L216.30,720.57 L216.80,715.92 L217.20,711.99 L217.90,707.53 L219.00,709.23 L219.90,711.99 L220.80,716.28 L221.80,720.57 L223.00,724.85 L224.40,729.14 L226.40,733.34 L228.40,737.80 L230.90,740.75 L234.40,741.82 L237.40,742.00 L237.40,742.60 L205.40,742.60 Z" fill="#5a5a5a"/>
<path d="M205.40,741.60 C206.07,741.31 208.32,740.53 209.40,739.82 C210.48,739.11 211.18,738.49 211.90,737.34 C212.62,736.18 213.22,734.44 213.70,732.87 C214.18,731.30 214.47,729.73 214.80,727.91 C215.13,726.09 215.45,723.58 215.70,721.96 C215.95,720.34 216.12,719.67 216.30,718.19 C216.48,716.70 216.65,714.61 216.80,713.03 C216.95,711.44 217.02,710.21 217.20,708.66 C217.38,707.11 217.60,704.21 217.90,703.70 C218.20,703.19 218.67,704.76 219.00,705.58 C219.33,706.41 219.60,707.35 219.90,708.66 C220.20,709.97 220.48,711.84 220.80,713.42 C221.12,715.01 221.43,716.60 221.80,718.19 C222.17,719.77 222.57,721.36 223.00,722.95 C223.43,724.54 223.83,726.14 224.40,727.71 C224.97,729.28 225.73,730.77 226.40,732.38 C227.07,733.98 227.65,735.96 228.40,737.34 C229.15,738.71 229.90,739.87 230.90,740.61 C231.90,741.36 233.32,741.57 234.40,741.80 C235.48,742.03 236.90,741.97 237.40,742.00" fill="none" stroke="#111" stroke-width="0.95"/>
<line x1="189.5" y1="742.0" x2="236" y2="742.0" stroke="#333" stroke-width="1.2" />
<rect x="117.50" y="683.40" width="65.90" height="59.60" fill="none" stroke="#6a6a6a" stroke-width="1.1"/>
<rect x="188.40" y="683.40" width="64.20" height="59.60" fill="none" stroke="#6a6a6a" stroke-width="1.1"/>
<line x1="118" y1="751.4" x2="249.5" y2="751.4" stroke="#111" stroke-width="1.5" />
<path d="M248,748.6 L253.5,751.4 L248,754.2 Z" fill="#111"/>
<text transform="translate(118.52,767.30) scale(1.1259,1)" font-size="13.33" style="font-weight:bold;" fill="#000" stroke="#000" stroke-width="0.2" >Fluorescence (log)</text>
<line x1="2.5" y1="740.0" x2="10.5" y2="740.0" stroke="#999" stroke-width="1.1" stroke-dasharray="1.2,1.4"/>
<text transform="translate(13.92,742.50) scale(0.9400,1)" font-size="9.42" style="letter-spacing:0.120px" fill="#000" stroke="#000" stroke-width="0.5" >isotype control</text>
<line x1="3.0" y1="754.5" x2="10.5" y2="754.5" stroke="#111" stroke-width="1.4" />
<text transform="translate(13.91,757.00) scale(0.9400,1)" font-size="9.71" style="letter-spacing:0.012px" fill="#000" stroke="#000" stroke-width="0.5" >untreated control</text>
<rect x="2.5" y="763" width="8.75" height="8.25" fill="#555"/>
<text transform="translate(14.37,770.50) scale(0.9400,1)" font-size="9.42" style="letter-spacing:0.054px" fill="#000" stroke="#000" stroke-width="0.5" >treatment as indicated</text>
</svg>
</body></html>
